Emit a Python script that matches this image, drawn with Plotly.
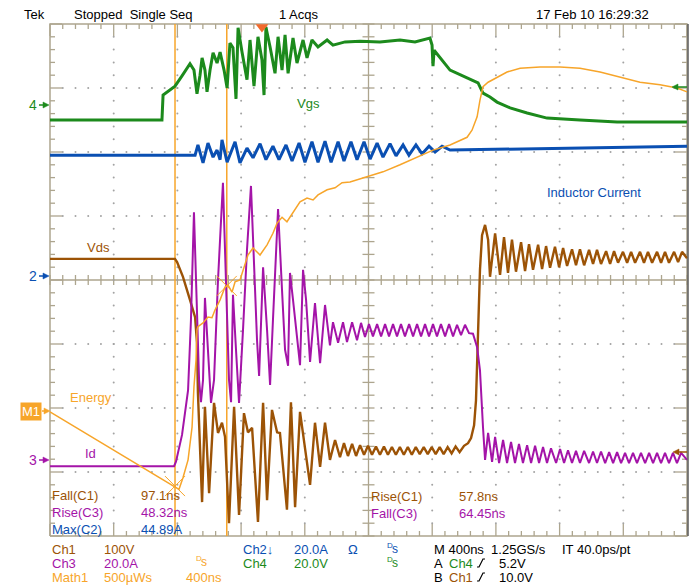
import numpy as np
import plotly.graph_objects as go

# ---------------------------------------------------------------------------
# Captured waveforms. Time in ns from the left edge of the screen
# (10 div x 400 ns), vertical position in screen divisions (centre = 0).
# ---------------------------------------------------------------------------

# Ch4 - gate-source voltage (Vgs)
vgs_t = [0, 703, 710, 754, 785, 829, 879, 904, 923, 942, 955, 973, 986, 1005, 1024,
         1049, 1068, 1093, 1112, 1130, 1149, 1168, 1181, 1206, 1237, 1256, 1281, 1306,
         1331, 1344, 1356, 1382, 1413, 1432, 1457, 1476, 1495, 1526, 1551, 1589, 1614,
         1645, 1683, 1740, 1777, 1853, 1947, 2072, 2198, 2292, 2386, 2399, 2405, 2412,
         2449, 2512, 2619, 2688, 2719, 2763, 2807, 2889, 2996, 3121, 3328, 3561, 4000]
vgs_v = [2.50, 2.50, 2.89, 2.97, 3.03, 3.19, 3.38, 3.28, 2.91, 3.20, 3.47, 3.28, 2.94,
         3.28, 3.55, 3.39, 3.56, 3.28, 3.00, 3.70, 3.63, 2.83, 3.94, 3.56, 3.13, 3.75,
         3.03, 3.80, 3.44, 2.89, 3.95, 3.64, 3.23, 3.80, 3.28, 3.83, 3.23, 3.78, 3.39,
         3.75, 3.47, 3.75, 3.64, 3.75, 3.67, 3.72, 3.73, 3.72, 3.75, 3.72, 3.78, 3.67,
         3.34, 3.59, 3.47, 3.28, 3.16, 3.08, 2.92, 2.86, 2.78, 2.69, 2.61, 2.53, 2.50,
         2.47, 2.47]

# Ch2 - inductor current
il_t = [0, 911, 929, 961, 992, 1024, 1049, 1068, 1080, 1112, 1162, 1193, 1237, 1275,
        1319, 1356, 1400, 1438, 1482, 1520, 1564, 1601, 1645, 1683, 1727, 1765, 1809,
        1846, 1890, 1928, 1972, 2010, 2054, 2091, 2135, 2173, 2217, 2254, 2298, 2336,
        2380, 2418, 2462, 2512, 4000]
il_v = [1.95, 1.95, 2.11, 1.83, 2.14, 1.92, 2.03, 1.88, 2.19, 1.84, 2.16, 1.83, 2.06,
        1.91, 2.13, 1.88, 2.09, 1.88, 2.11, 1.86, 2.14, 1.84, 2.16, 1.84, 2.17, 1.84,
        2.16, 1.86, 2.16, 1.88, 2.16, 1.89, 2.14, 1.92, 2.13, 1.94, 2.11, 1.95, 2.11,
        1.97, 2.09, 2.00, 2.09, 2.03, 2.09]

# Ch1 - drain-source voltage (Vds), (time, div) pairs
vds = [(0, 0.33), (785, 0.33), (798, 0.28), (835, 0.05), (879, -0.31), (911, -0.58),
       (923, -0.98), (929, -1.77), (955, -3.47), (973, -1.98), (999, -3.33),
       (1030, -1.92), (1055, -2.39), (1080, -2.23), (1099, -2.45), (1124, -3.80),
       (1156, -1.98), (1187, -3.67), (1218, -2.08), (1243, -2.38), (1269, -2.31),
       (1306, -3.78), (1338, -1.92), (1363, -3.44), (1394, -2.03), (1426, -2.38),
       (1444, -2.39), (1488, -3.59), (1513, -1.91), (1539, -3.55), (1570, -2.06),
       (1601, -2.61), (1633, -3.20), (1664, -2.23), (1696, -2.92), (1727, -2.23),
       (1758, -2.81), (1790, -2.50), (1821, -2.77), (1846, -2.55), (1871, -2.75),
       (1897, -2.56), (1922, -2.75), (1947, -2.58), (1972, -2.73), (1997, -2.59),
       (2022, -2.73), (2047, -2.60), (2072, -2.73), (2097, -2.60), (2122, -2.73),
       (2147, -2.61), (2172, -2.73), (2197, -2.61), (2222, -2.73), (2247, -2.61),
       (2272, -2.73), (2297, -2.61), (2322, -2.72), (2347, -2.61), (2372, -2.72),
       (2397, -2.61), (2422, -2.72), (2447, -2.61), (2472, -2.72), (2497, -2.61),
       (2522, -2.71), (2547, -2.60), (2572, -2.69), (2600, -2.59), (2625, -2.55),
       (2644, -2.47), (2663, -2.27), (2675, -1.88), (2688, -0.78), (2700, 0.16),
       (2713, 0.70), (2732, 0.86), (2751, 0.63), (2763, 0.05), (2795, 0.73),
       (2826, 0.08), (2851, 0.67), (2876, 0.11), (2901, 0.63), (2926, 0.13),
       (2958, 0.59), (2983, 0.14), (3008, 0.56), (3033, 0.16), (3065, 0.55),
       (3090, 0.17), (3115, 0.53), (3140, 0.19), (3171, 0.52), (3197, 0.20),
       (3222, 0.50), (3247, 0.22), (3278, 0.48), (3303, 0.23), (3328, 0.48),
       (3354, 0.23), (3385, 0.47), (3410, 0.25), (3435, 0.47), (3460, 0.25),
       (3492, 0.45), (3517, 0.25), (3542, 0.45), (3567, 0.27), (3598, 0.44),
       (3624, 0.27), (3649, 0.44), (3674, 0.27), (3705, 0.44), (3730, 0.27),
       (3755, 0.44), (3781, 0.27), (3812, 0.44), (3837, 0.27), (3862, 0.44),
       (3887, 0.27), (3919, 0.44), (3944, 0.28), (3969, 0.44), (4000, 0.34)]

# Ch3 - drain current (Id), (time, div) pairs
idr = [(0, -2.91), (779, -2.91), (791, -2.84), (829, -2.42), (867, -1.72), (885, -0.63),
       (904, 1.06), (923, -0.31), (936, -1.56), (948, -1.91), (961, -1.56), (973, -0.28),
       (992, -1.09), (1011, -1.92), (1030, -1.56), (1055, 0.00), (1086, 1.52),
       (1105, 0.00), (1124, -1.56), (1137, -1.91), (1149, -0.23), (1168, -1.09),
       (1187, -1.92), (1212, -0.78), (1237, 0.47), (1262, 1.47), (1281, 0.16),
       (1300, -0.94), (1313, -1.50), (1338, 0.20), (1363, -0.78), (1382, -1.64),
       (1400, -0.63), (1432, 1.11), (1457, -0.16), (1476, -1.09), (1495, -1.34),
       (1507, 0.11), (1526, -0.31), (1551, -0.94), (1570, -1.33), (1589, 0.16),
       (1608, -0.31), (1633, -1.28), (1664, -0.36), (1696, -1.30), (1727, -0.39),
       (1758, -1.02), (1777, -0.66), (1809, -0.98), (1840, -0.66), (1865, -0.97),
       (1897, -0.66), (1928, -0.94), (1953, -0.67), (1978, -0.89), (2003, -0.69),
       (2028, -0.88), (2054, -0.69), (2079, -0.88), (2104, -0.69), (2129, -0.88),
       (2154, -0.69), (2179, -0.88), (2204, -0.69), (2229, -0.88), (2255, -0.69),
       (2280, -0.88), (2305, -0.69), (2330, -0.88), (2355, -0.69), (2380, -0.88),
       (2405, -0.69), (2430, -0.88), (2455, -0.69), (2481, -0.88), (2506, -0.69),
       (2531, -0.88), (2556, -0.70), (2581, -0.86), (2606, -0.70), (2631, -0.83),
       (2656, -0.84), (2682, -1.05), (2700, -1.41), (2719, -2.30), (2732, -2.81),
       (2751, -2.39), (2776, -2.84), (2795, -2.45), (2820, -2.86), (2845, -2.50),
       (2870, -2.86), (2895, -2.53), (2920, -2.86), (2945, -2.56), (2970, -2.86),
       (2996, -2.58), (3021, -2.86), (3046, -2.59), (3071, -2.86), (3096, -2.61),
       (3121, -2.86), (3146, -2.63), (3178, -2.86), (3203, -2.64), (3228, -2.86),
       (3253, -2.66), (3278, -2.86), (3303, -2.67), (3328, -2.86), (3354, -2.67),
       (3385, -2.86), (3410, -2.68), (3435, -2.86), (3460, -2.68), (3486, -2.86),
       (3511, -2.69), (3536, -2.86), (3561, -2.69), (3586, -2.86), (3611, -2.70),
       (3636, -2.86), (3661, -2.70), (3686, -2.86), (3711, -2.70), (3737, -2.86),
       (3762, -2.70), (3787, -2.86), (3812, -2.70), (3837, -2.86), (3862, -2.70),
       (3887, -2.86), (3912, -2.70), (3937, -2.86), (3963, -2.70), (4000, -2.81)]

# Math1 - switching energy, (time, div) pairs
energy = [(0, -2.06), (785, -3.22), (810, -3.27), (835, -3.09), (867, -2.81),
          (892, -2.30), (904, -1.67), (917, -1.25), (923, -0.78), (929, -0.73),
          (961, -0.67), (992, -0.58), (1017, -0.59), (1036, -0.47), (1068, -0.31),
          (1099, -0.11), (1118, -0.08), (1143, -0.19), (1162, -0.03), (1193, 0.00),
          (1212, 0.16), (1243, 0.39), (1275, 0.50), (1319, 0.39), (1363, 0.55),
          (1400, 0.73), (1426, 0.89), (1457, 0.98), (1488, 0.91), (1526, 1.06),
          (1570, 1.22), (1614, 1.28), (1652, 1.25), (1683, 1.33), (1740, 1.41),
          (1790, 1.44), (1834, 1.52), (1884, 1.53), (1991, 1.61), (2091, 1.69),
          (2198, 1.80), (2305, 1.92), (2405, 2.03), (2512, 2.11), (2619, 2.23),
          (2650, 2.34), (2682, 2.55), (2700, 2.81), (2719, 3.02), (2751, 3.09),
          (2807, 3.17), (2870, 3.25), (2952, 3.31), (3077, 3.33), (3203, 3.33),
          (3328, 3.31), (3454, 3.25), (3580, 3.17), (3705, 3.09), (3831, 3.05),
          (3938, 3.00), (4000, 2.94)]

cursor_t = [785, 1110]      # measurement cursors (ns)
trigger_t = 1331            # trigger point (ns)

# ---------------------------------------------------------------------------
W, H = 691, 585
PL, PR, PT, PB = 46, 691, 20, 540          # plot box in pixels
T_SPAN = 4000.0
NS_PX = T_SPAN / 637.0                      # ns per pixel
DIV_PX = 1 / 64.0                           # div per pixel
FONT = "Liberation Sans, Arial, sans-serif"

C_VDS = "#9c5306"
C_ID = "#a414a8"
C_IL = "#0a4fb2"
C_VGS = "#1c8a1c"
C_MATH = "#f7a52a"
C_TRIG = "#f26a2c"
GRAT = "#ada58e"
DOT = "#a3a3a3"

fig = go.Figure()


def line(x, y, color, width, **kw):
    fig.add_trace(go.Scatter(x=x, y=y, mode="lines", hoverinfo="skip",
                             showlegend=False,
                             line=dict(color=color, width=width), **kw))


# graticule: frame, centre cross, ticks
seg_x, seg_y = [], []


def seg(x0, y0, x1, y1):
    seg_x.extend([x0, x1, None])
    seg_y.extend([y0, y1, None])


for i in range(51):
    x = i * 80.0
    L = (12 if i % 5 == 0 else 5) * DIV_PX
    seg(x, 4, x, 4 - L)
    seg(x, -4, x, -4 + L)
    seg(x, -5 * DIV_PX, x, 5 * DIV_PX)
for j in range(41):
    y = -4 + j * 0.2
    L = (12 if j % 5 == 0 else 5) * NS_PX
    seg(0, y, L, y)
    seg(T_SPAN, y, T_SPAN - L, y)
    seg(2000 - 6 * NS_PX, y, 2000 + 6 * NS_PX, y)
seg(0, 0, T_SPAN, 0)
seg(2000, -4, 2000, 4)
line(seg_x, seg_y, GRAT, 1.3)
line([0, T_SPAN, T_SPAN, 0, 0], [-4, -4, 4, 4, -4], GRAT, 1.5)

dx, dy = [], []
for k in range(1, 10):
    if k == 5:
        continue
    for j in range(1, 40):
        dx.append(k * 400.0)
        dy.append(-4 + j * 0.2)
for m in (-3, -2, -1, 1, 2, 3):
    for i in range(1, 50):
        dx.append(i * 80.0)
        dy.append(m)
fig.add_trace(go.Scatter(x=dx, y=dy, mode="markers", hoverinfo="skip",
                         showlegend=False,
                         marker=dict(size=2, color=DOT, line=dict(width=0))))

# cursors
for tc in cursor_t:
    line([tc, tc], [-4, 4], C_MATH, 1.5)

# waveforms
line(il_t, il_v, C_IL, 3)
line(vgs_t, vgs_v, C_VGS, 3)
line([p[0] for p in vds], [p[1] for p in vds], C_VDS, 2.4)
line([p[0] for p in idr], [p[1] for p in idr], C_ID, 2)
e_t = [p[0] for p in energy]
e_v = [p[1] for p in energy]
line(e_t, e_v, C_MATH, 1.5)

# cursor crosses on the energy trace
for tc in cursor_t:
    ev = float(np.interp(tc, e_t, e_v))
    hx, hy = 10 * NS_PX, 10 * DIV_PX
    line([tc - hx, tc + hx, None, tc - hx, tc + hx],
         [ev + hy, ev - hy, None, ev - hy, ev + hy], C_MATH, 1)

# trigger position marker
fig.add_trace(go.Scatter(x=[trigger_t], y=[4 - 3 * DIV_PX], mode="markers",
                         hoverinfo="skip", showlegend=False, cliponaxis=False,
                         marker=dict(symbol="triangle-down", size=11,
                                     color=C_TRIG, line=dict(width=0))))

# ---------------------------------------------------------------------------
annotations = []
shapes = []


def P(x, y):
    return (x - PL) / (PR - PL), (PB - y) / (PB - PT)


def text(s, x, y, color="#000000", size=13, anchor="left", **kw):
    px, py = P(x, y)
    d = dict(text=s, x=px, y=py, xref="paper", yref="paper", xanchor=anchor,
             yanchor="middle", showarrow=False,
             font=dict(family=FONT, size=size, color=color))
    d.update(kw)
    annotations.append(d)


def ds_icon(x, y, color):
    """Small 'D over s' status glyph."""
    text("D", x, y - 4, color, size=8)
    text("s", x + 5, y, color, size=12)


def slope_icon(x, y):
    """Rising-edge trigger slope glyph."""
    pts = [P(x, y + 4), P(x + 2, y + 4), P(x + 6, y - 4), P(x + 8, y - 4)]
    path = "M " + " L ".join(f"{a} {b}" for a, b in pts)
    shapes.append(dict(type="path", xref="paper", yref="paper", path=path,
                       line=dict(color="#000000", width=1.2)))


def marker_arrow(x_tail, x_tip, y, color):
    """Small horizontal arrow drawn as paper shapes (shaft + head)."""
    s = 1 if x_tip > x_tail else -1
    xa, ya = P(x_tail, y)
    xb, _ = P(x_tip - s * 4, y)
    shapes.append(dict(type="line", xref="paper", yref="paper", x0=xa, x1=xb,
                       y0=ya, y1=ya, line=dict(color=color, width=1.5)))
    t = P(x_tip, y)
    b1 = P(x_tip - s * 6, y - 3)
    b2 = P(x_tip - s * 6, y + 3)
    shapes.append(dict(type="path", xref="paper", yref="paper",
                       path=f"M {t[0]} {t[1]} L {b1[0]} {b1[1]} L {b2[0]} {b2[1]} Z",
                       fillcolor=color, line=dict(color=color, width=0.5)))


# header
text("Tek", 22, 14)
text("Stopped  Single Seq", 72, 14)
text("1 Acqs", 277, 14)
text("17 Feb 10 16:29:32", 534, 14)

# trace labels
text("Vgs", 295, 103, C_VGS)
text("Inductor Current", 545, 192, C_IL)
text("Vds", 85, 247, C_VDS)
text("Energy", 68, 397, C_MATH)
text("Id", 83, 453, C_ID)

# measurements
text("Fall(C1)", 50, 495, C_VDS)
text("97.1ns", 139, 495, C_VDS)
text("Rise(C3)", 50, 512, C_ID)
text("48.32ns", 139, 512, C_ID)
text("Max(C2)", 50, 529, C_IL)
text("44.89A", 139, 529, C_IL)
text("Rise(C1)", 369, 496, C_VDS)
text("57.8ns", 457, 496, C_VDS)
text("Fall(C3)", 369, 513, C_ID)
text("64.45ns", 457, 513, C_ID)

# channel settings
ROW1, ROW2, ROW3 = 549, 563, 577
text("Ch1", 50, ROW1, C_VDS)
text("100V", 102, ROW1, C_VDS)
text("Ch2\u2193", 241, ROW1, C_IL)
text("20.0A", 292, ROW1, C_IL)
text("\u03a9", 346, ROW1, C_IL)
ds_icon(385, ROW1, C_IL)
text("M 400ns  1.25GS/s", 432, ROW1)
text("IT 40.0ps/pt", 560, ROW1)

text("Ch3", 50, ROW2, C_ID)
text("20.0A", 102, ROW2, C_ID)
ds_icon(194, ROW2 - 1, C_MATH)
text("Ch4", 241, ROW2, C_VGS)
text("20.0V", 292, ROW2, C_VGS)
ds_icon(385, ROW2, C_VGS)
text("A", 432, ROW2)
text("Ch4", 447, ROW2, C_VGS)
slope_icon(477, ROW2)
text("5.2V", 497, ROW2)

text("Math1", 50, ROW3, C_MATH)
text("500\u00b5Ws", 102, ROW3, C_MATH)
text("400ns", 184, ROW3, C_MATH)
text("B", 432, ROW3)
text("Ch1", 447, ROW3, C_VDS)
slope_icon(477, ROW3)
text("10.0V", 497, ROW3)

# ground / reference markers
text("4", 33, 105, C_VGS, size=14, anchor="center")
marker_arrow(39, 49, 105, C_VGS)
text("2", 33, 276, C_IL, size=14, anchor="center")
marker_arrow(39, 49, 276, C_IL)
text("3", 33, 460, C_ID, size=14, anchor="center")
marker_arrow(39, 49, 460, C_ID)
text("M1", 31, 411, "#ffffff", size=13, anchor="center",
     bgcolor=C_MATH, borderpad=1)
marker_arrow(42, 50, 411, C_MATH)
# trigger level markers
marker_arrow(687, 672, 87, C_VGS)
marker_arrow(687, 673, 452, C_VDS)

# right edge of the screen
shapes.append(dict(type="line", xref="paper", yref="paper",
                   x0=P(688, 0)[0], x1=P(688, 0)[0], y0=P(0, 24)[1], y1=P(0, 536)[1],
                   line=dict(color="#5a5a5a", width=1.5)))

fig.update_layout(
    width=W, height=H,
    margin=dict(l=PL, r=W - PR, t=PT, b=H - PB, pad=0),
    paper_bgcolor="#ffffff", plot_bgcolor="#ffffff",
    xaxis=dict(range=[-4 * NS_PX, T_SPAN + 4 * NS_PX], visible=False,
               fixedrange=True),
    yaxis=dict(range=[-4 - 4 * DIV_PX, 4 + 4 * DIV_PX], visible=False,
               fixedrange=True),
    annotations=annotations,
    shapes=shapes,
)

fig.write_html("out.html")
